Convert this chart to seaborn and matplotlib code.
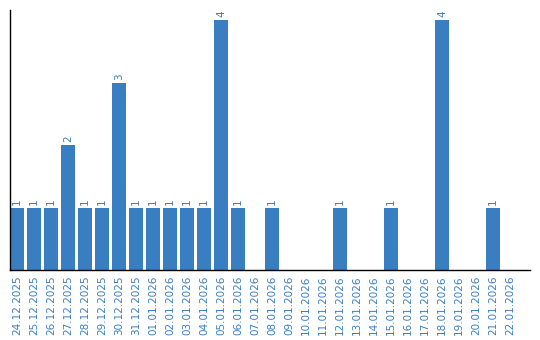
import matplotlib
matplotlib.use("Agg")
import matplotlib.pyplot as plt
import seaborn as sns
import pandas as pd

dates = ["24.12.2025", "25.12.2025", "26.12.2025", "27.12.2025", "28.12.2025",
         "29.12.2025", "30.12.2025", "31.12.2025", "01.01.2026", "02.01.2026",
         "03.01.2026", "04.01.2026", "05.01.2026", "06.01.2026", "07.01.2026",
         "08.01.2026", "09.01.2026", "10.01.2026", "11.01.2026", "12.01.2026",
         "13.01.2026", "14.01.2026", "15.01.2026", "16.01.2026", "17.01.2026",
         "18.01.2026", "19.01.2026", "20.01.2026", "21.01.2026", "22.01.2026"]
counts = [1, 1, 1, 2, 1, 1, 3, 1, 1, 1, 1, 1, 4, 1, 0,
          1, 0, 0, 0, 1, 0, 0, 1, 0, 0, 4, 0, 0, 1, 0]

blue = "#3a7ec2"
sns.set_style("white")
plt.rcParams['font.family'] = ['DejaVu Sans']

df = pd.DataFrame({"date": dates, "count": counts})
fig = plt.figure(figsize=(5.4, 3.4), dpi=100)
ax = fig.add_axes([10/540, 70/340, 520/540, 260/340])
sns.barplot(data=df, x="date", y="count", color=blue, saturation=1,
            width=14/17, linewidth=0, ax=ax)

cont = ax.containers[0]
labels = [str(c) if c > 0 else "" for c in counts]
ax.bar_label(cont, labels=labels, rotation=90, padding=2, color=blue, fontsize=7.5)

ax.set_xlim(-7/17, 513/17)
ax.set_ylim(0, 4.16)
ax.set_xlabel("")
ax.set_ylabel("")
ax.set_yticks([])
ax.tick_params(axis="x", length=0, pad=4, labelsize=7.5, labelcolor=blue, rotation=90)
for s in ["top", "right"]:
    ax.spines[s].set_visible(False)
for s in ["left", "bottom"]:
    ax.spines[s].set_color("black")
    ax.spines[s].set_linewidth(1)

fig.savefig("out.png", dpi=100)
